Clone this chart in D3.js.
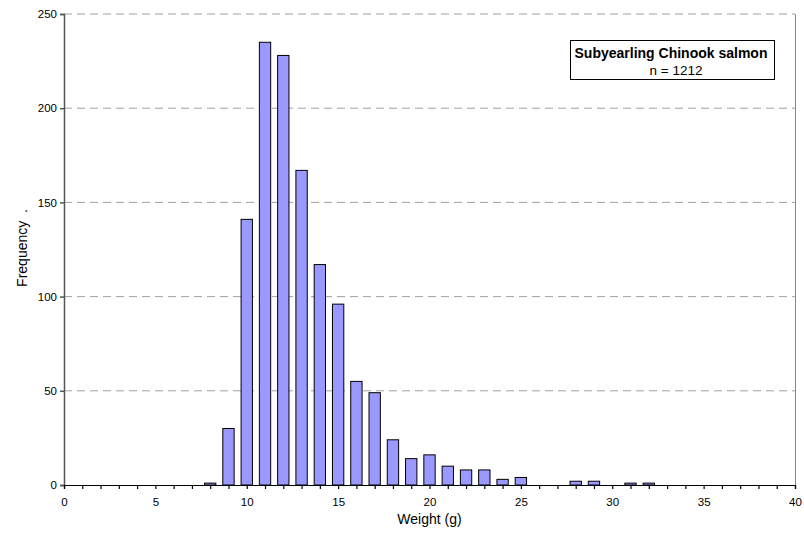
<!DOCTYPE html>
<html>
<head>
<meta charset="utf-8">
<script src="https://cdn.jsdelivr.net/npm/d3@7"></script>
<style>
  body { margin: 0; background: #fff; }
  svg { display: block; font-family: "Liberation Sans", Arial, sans-serif; }
</style>
</head>
<body>
<div id="chart"></div>
<script>
// histogram data: weight bin (g) and count
const weights = [8, 9, 10, 11, 12, 13, 14, 15, 16, 17, 18, 19, 20, 21, 22, 23, 24, 25, 28, 29, 31, 32];
const counts  = [1, 30, 141, 235, 228, 167, 117, 96, 55, 49, 24, 14, 16, 10, 8, 8, 3, 4, 2, 2, 1, 1];
const xTicks = [0, 5, 10, 15, 20, 25, 30, 35, 40];
const yTicks = [0, 50, 100, 150, 200, 250];
const legendTitle = "Subyearling Chinook salmon";
const legendSub = "n = 1212";

const data = weights.map((w, i) => ({weight: w, count: counts[i]}));

const width = 804;
const height = 535;
const margin = {left: 64, right: 9, top: 14, bottom: 50};

const svg = d3.select("#chart")
  .append("svg")
  .attr("width", width)
  .attr("height", height);

const x = d3.scaleLinear()
  .domain([0, 40])
  .range([margin.left, width - margin.right]);

const y = d3.scaleLinear()
  .domain([0, 250])
  .range([height - margin.bottom, margin.top]);

// dashed gridlines
svg.append("g")
  .selectAll("line")
  .data(yTicks.filter(d => d > 0))
  .enter()
  .append("line")
    .attr("x1", margin.left)
    .attr("x2", width - margin.right)
    .attr("y1", d => y(d))
    .attr("y2", d => y(d))
    .attr("stroke", "#a0a0a0")
    .attr("stroke-dasharray", "8,5");

// right border of plot area
svg.append("line")
  .attr("x1", width - margin.right + 0.5)
  .attr("x2", width - margin.right + 0.5)
  .attr("y1", y(250))
  .attr("y2", y(0))
  .attr("stroke", "#888");

// bars
const barW = (x(1) - x(0)) * 0.62;
svg.selectAll(".bar")
  .data(data)
  .enter()
  .append("rect")
    .attr("class", "bar")
    .attr("x", d => x(d.weight) - barW / 2)
    .attr("y", d => y(d.count))
    .attr("width", barW)
    .attr("height", d => y(0) - y(d.count))
    .attr("fill", "#9999ff")
    .attr("stroke", "#000")
    .attr("stroke-width", 1);

// y axis
const yAxis = svg.append("g")
  .attr("transform", `translate(${margin.left},0)`)
  .call(d3.axisLeft(y).tickValues(yTicks).tickSize(4).tickPadding(3));
yAxis.selectAll("path, line").attr("stroke", "#555").attr("stroke-width", 1.5);
yAxis.selectAll("text").attr("font-size", "11.5px").attr("fill", "#000")
  .style("font-family", "Liberation Sans, Arial, sans-serif");

// x axis: minor ticks at every integer, labels every 5
const xAxis = svg.append("g")
  .attr("transform", `translate(0,${height - margin.bottom})`)
  .call(d3.axisBottom(x).ticks(40).tickSize(4).tickPadding(9)
    .tickFormat(d => xTicks.includes(d) ? d : ""));
xAxis.selectAll("path, line").attr("stroke", "#000").attr("stroke-width", 1.2);
xAxis.selectAll("text").attr("font-size", "11.5px").attr("fill", "#000")
  .style("font-family", "Liberation Sans, Arial, sans-serif");

// axis titles
svg.append("text")
  .attr("x", (margin.left + width - margin.right) / 2)
  .attr("y", 524)
  .attr("text-anchor", "middle")
  .attr("font-size", "14px")
  .text("Weight (g)");

svg.append("text")
  .attr("transform", "translate(27,248) rotate(-90)")
  .attr("text-anchor", "middle")
  .attr("font-size", "14px")
  .attr("xml:space", "preserve")
  .style("white-space", "pre")
  .text("Frequency  .");

// legend box
const lg = svg.append("g");
lg.append("rect")
  .attr("x", 570.5)
  .attr("y", 40.5)
  .attr("width", 204)
  .attr("height", 39)
  .attr("fill", "#fff")
  .attr("stroke", "#000");
lg.append("text")
  .attr("x", 671)
  .attr("y", 57.5)
  .attr("text-anchor", "middle")
  .attr("font-size", "14px")
  .attr("font-weight", "bold")
  .text(legendTitle);
lg.append("text")
  .attr("x", 676)
  .attr("y", 74.5)
  .attr("text-anchor", "middle")
  .attr("font-size", "13.5px")
  .text(legendSub);
</script>
</body>
</html>
